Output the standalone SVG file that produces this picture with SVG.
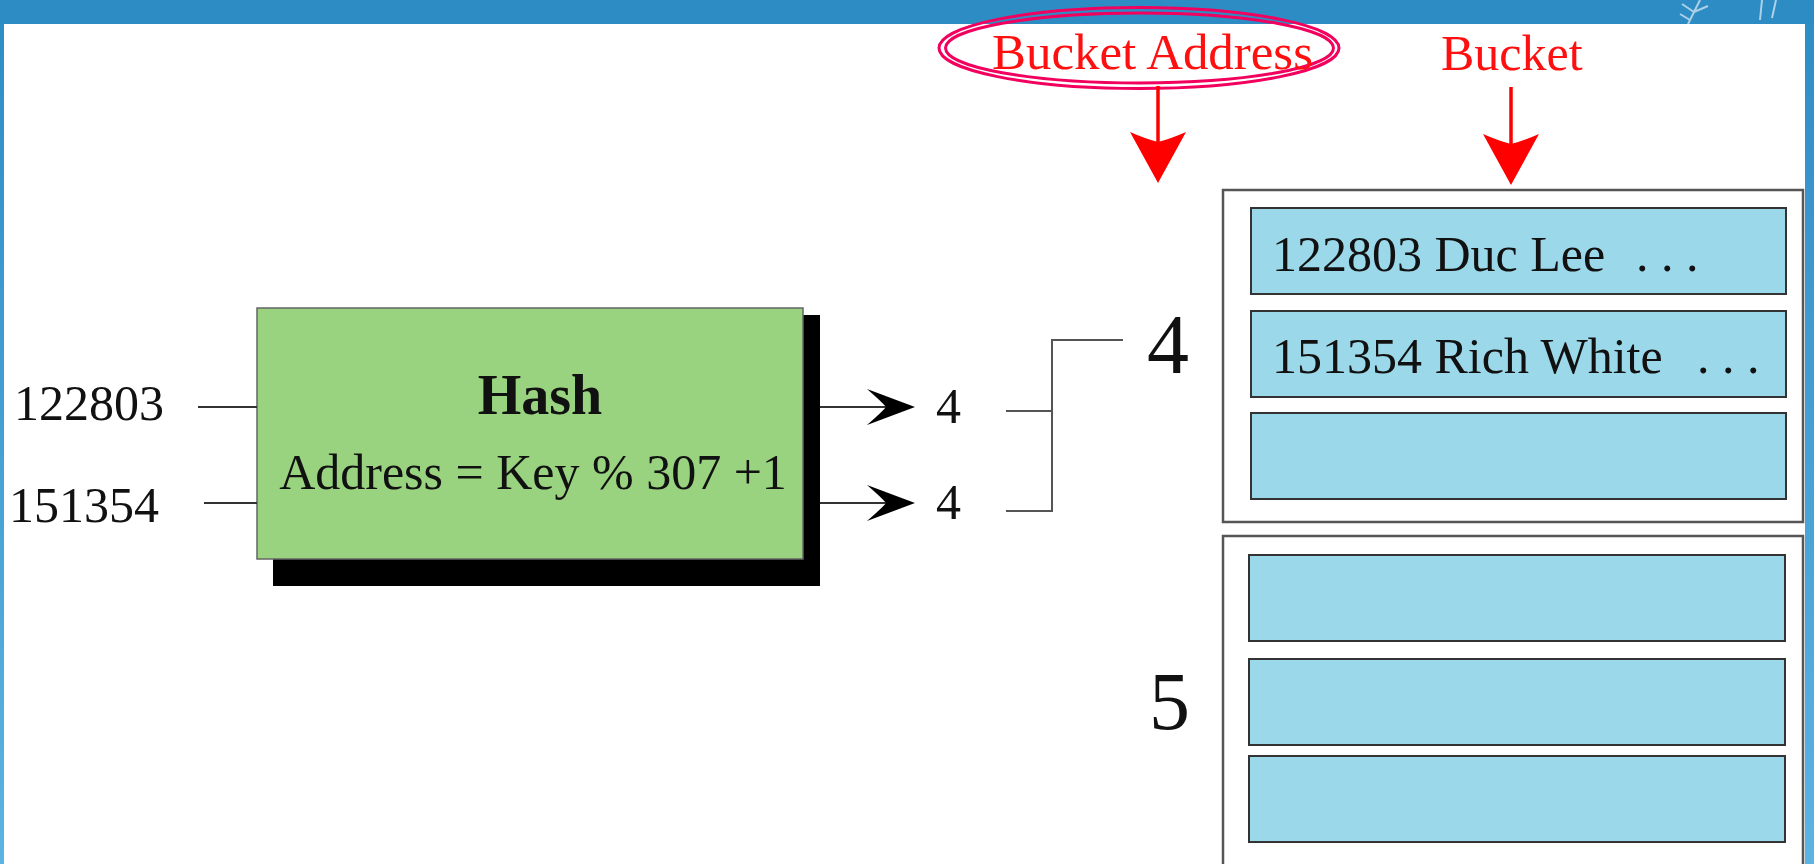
<svg xmlns="http://www.w3.org/2000/svg" xmlns:xlink="http://www.w3.org/1999/xlink" width="1814" height="864" viewBox="0 0 1814 864">
  <defs>
    <linearGradient id="sideGrad" x1="0" y1="0" x2="0" y2="1">
      <stop offset="0" stop-color="#2E8CC5"/>
      <stop offset="1" stop-color="#5BB4E2"/>
    </linearGradient>
    <path id="redHead" d="M0,0 L-28,-51 Q-12,-44 0,-41 Q12,-44 28,-51 Z"/>
    <path id="blackHead" d="M0,0 L-48,-18 Q-33,-5 -29,0 Q-33,5 -48,18 Z"/>
  </defs>
  <style>
    .serif { font-family: "Liberation Serif", "Times New Roman", serif; fill: #111; }
    .red { font-family: "Liberation Serif", "Times New Roman", serif; fill: #FF1010; }
    .row { fill: #9BD8EA; stroke: #333; stroke-width: 2; }
    .bucket { fill: #FFFFFF; stroke: #555; stroke-width: 2.5; }
    .wire { fill: none; stroke: #333; stroke-width: 2; }
    .bracket { fill: none; stroke: #555; stroke-width: 2; }
    .redline { fill: none; stroke: #FF0000; stroke-width: 3.5; }
    .ring { fill: none; stroke: #F2005E; stroke-width: 3; }
  </style>

  <!-- background -->
  <rect x="0" y="0" width="1814" height="864" fill="url(#sideGrad)"/>
  <rect x="0" y="0" width="1814" height="24" fill="#2D8CC4"/>
  <rect x="4" y="24" width="1801" height="840" fill="#FFFFFF"/>
  <g stroke="#FFFFFF" stroke-width="2" opacity="0.6" fill="none">
    <path d="M1688,24 L1700,0 M1694,12 L1682,4 M1694,12 L1708,6 M1690,20 L1680,14"/>
    <path d="M1760,20 L1762,0 M1772,18 L1776,0"/>
  </g>

  <!-- Hash node -->
  <g id="hash">
    <rect x="273" y="315" width="547" height="271" fill="#000"/>
    <rect x="257" y="308" width="546" height="251" fill="#9AD37F" stroke="#666" stroke-width="1.5"/>
    <text class="serif" x="540" y="414" font-size="56" font-weight="bold" text-anchor="middle">Hash</text>
    <text class="serif" x="533" y="489" font-size="50" text-anchor="middle">Address = Key % 307 +1</text>
  </g>

  <!-- input keys -->
  <g id="key1"><text class="serif" x="14" y="420" font-size="50">122803</text></g>
  <g id="key2"><text class="serif" x="9" y="522" font-size="50">151354</text></g>

  <!-- output addresses -->
  <g id="addr1"><text class="serif" x="936" y="423" font-size="50">4</text></g>
  <g id="addr2"><text class="serif" x="936" y="519" font-size="50">4</text></g>

  <!-- bucket address labels -->
  <g id="label4"><text class="serif" x="1147" y="373" font-size="84">4</text></g>
  <g id="label5"><text class="serif" x="1149" y="729" font-size="82">5</text></g>

  <!-- Bucket Address callout -->
  <g id="bucketAddressLabel">
    <ellipse class="ring" cx="1139" cy="48" rx="200" ry="40.5"/>
    <ellipse class="ring" cx="1139.5" cy="48" rx="194" ry="35"/>
    <text class="red" x="992" y="69" font-size="50" textLength="321" lengthAdjust="spacingAndGlyphs">Bucket Address</text>
  </g>

  <!-- Bucket label -->
  <g id="bucketLabel">
    <text class="red" x="1441" y="70" font-size="50">Bucket</text>
  </g>

  <!-- Bucket 4 -->
  <g id="bucket4">
    <rect class="bucket" x="1223" y="190" width="580" height="332"/>
    <rect class="row" x="1251" y="208" width="535" height="86"/>
    <rect class="row" x="1251" y="311" width="535" height="86"/>
    <rect class="row" x="1251" y="413" width="535" height="86"/>
    <text class="serif" x="1272" y="271" font-size="50">122803 Duc Lee<tspan x="1636">. . .</tspan></text>
    <text class="serif" x="1272" y="373" font-size="50">151354 Rich White<tspan x="1697">. . .</tspan></text>
  </g>

  <!-- Bucket 5 -->
  <g id="bucket5">
    <rect class="bucket" x="1223" y="536" width="580" height="340"/>
    <rect class="row" x="1249" y="555" width="536" height="86"/>
    <rect class="row" x="1249" y="659" width="536" height="86"/>
    <rect class="row" x="1249" y="756" width="536" height="86"/>
  </g>

  <!-- connectors -->
  <g id="connectors">
    <line class="wire" x1="198" y1="407" x2="257" y2="407"/>
    <line class="wire" x1="204" y1="503" x2="257" y2="503"/>
    <line class="wire" x1="820" y1="407" x2="890" y2="407"/>
    <use xlink:href="#blackHead" href="#blackHead" x="915" y="407" fill="#000"/>
    <line class="wire" x1="820" y1="503" x2="890" y2="503"/>
    <use xlink:href="#blackHead" href="#blackHead" x="915" y="503" fill="#000"/>
    <path class="bracket" d="M1006,411 H1052 M1006,511 H1052 V340 H1123"/>
    <line class="redline" x1="1158" y1="86" x2="1158" y2="150"/>
    <use xlink:href="#redHead" href="#redHead" x="1158" y="183" fill="#FF0000"/>
    <line class="redline" x1="1511" y1="87" x2="1511" y2="150"/>
    <use xlink:href="#redHead" href="#redHead" x="1511" y="185" fill="#FF0000"/>
  </g>
</svg>
